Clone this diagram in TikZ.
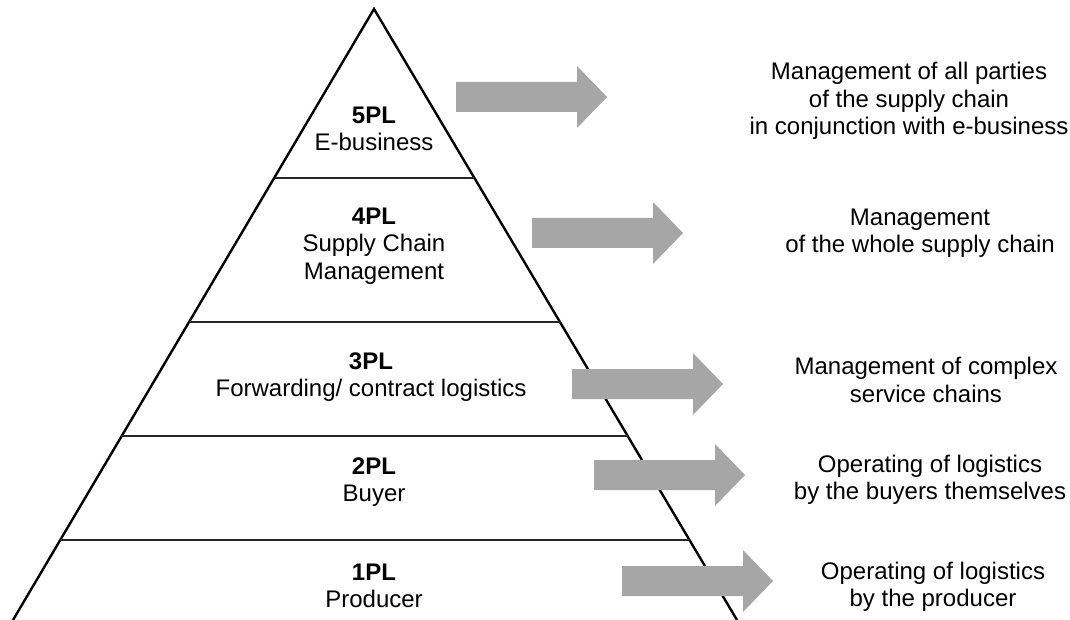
\documentclass[tikz,border=0pt]{standalone}
\usepackage{fontspec}
\setmainfont{Liberation Sans}
\definecolor{arrowgray}{RGB}{166,166,166}
\begin{document}
\begin{tikzpicture}[x=1pt,y=-1pt,
  lbl/.style={align=center,inner sep=0pt,font=\fontsize{24}{27.5}\selectfont},
  side/.style={black,line width=2.4pt,line join=miter},
  divider/.style={black!85,line width=1.1pt},
  blockarrow/.style={fill=arrowgray,draw=none}]
\useasboundingbox (0,0) rectangle (1070,620);
\begin{scope}
\clip (0,0) rectangle (1070,620);
\coordinate (apex) at (374,9);
\coordinate (bl) at (13,620);
\coordinate (br) at (737,620);
\draw[side] (bl) -- (apex) -- (br);
\end{scope}
% dividers
\coordinate (d1l) at (275,178); \coordinate (d1r) at (474,178);
\coordinate (d2l) at (189,322); \coordinate (d2r) at (561,322);
\coordinate (d3l) at (121,436); \coordinate (d3r) at (628,436);
\coordinate (d4l) at (60,540);  \coordinate (d4r) at (690,540);
\draw[divider] (d1l) -- (d1r);
\draw[divider] (d2l) -- (d2r);
\draw[divider] (d3l) -- (d3r);
\draw[divider] (d4l) -- (d4r);
% labels in pyramid
\node[lbl] (l5) at (374,129) {\textbf{5PL}\\E-business};
\node[lbl] (l4) at (374,246) {\textbf{4PL}\\Supply Chain\\Management};
\node[lbl] (l3) at (371,377) {\textbf{3PL}\\Forwarding/ contract logistics};
\node[lbl] (l2) at (374,482) {\textbf{2PL}\\Buyer};
\node[lbl] (l1) at (374,586) {\textbf{1PL}\\Producer};
% arrows
\foreach \x/\y in {456/97, 532/233, 572/384, 594/475, 622/581}{
  \fill[blockarrow] (\x,\y-15) -- ++(121,0) -- ++(0,-16) -- (\x+151,\y)
     -- (\x+121,\y+31) -- ++(0,-16) -- (\x,\y+15) -- cycle;
}
% right texts
\node[lbl] (r5) at (909,101) {Management of all parties\\of the supply chain\\in conjunction with e-business};
\node[lbl] (r4) at (920,233) {Management\\of the whole supply chain};
\node[lbl] (r3) at (926,380) {Management of complex\\service chains};
\node[lbl] (r2) at (930,480) {Operating of logistics\\by the buyers themselves};
\node[lbl] (r1) at (933,587) {Operating of logistics\\by the producer};
\end{tikzpicture}
\end{document}
